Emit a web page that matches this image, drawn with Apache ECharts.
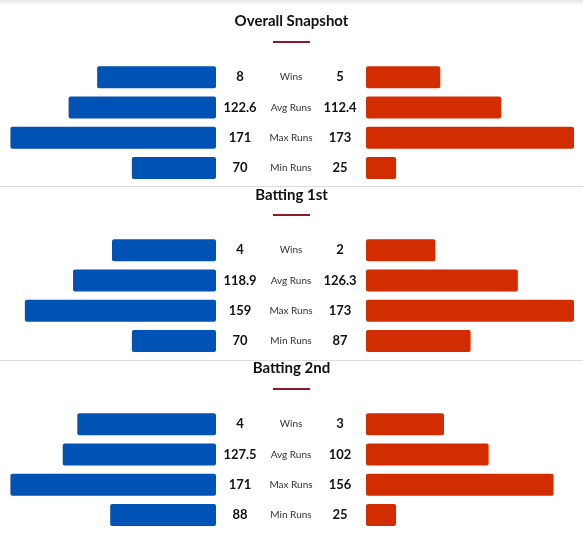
<!DOCTYPE html>
<html>
<head>
<meta charset="utf-8">
<script src="https://cdn.jsdelivr.net/npm/echarts@6/dist/echarts.min.js"></script>
<style>
  html, body { margin: 0; padding: 0; background: #fff; }
  #chart { width: 583px; height: 547px; }
</style>
</head>
<body>
<div id="chart"></div>
<script>
// section titles and row names
const sections = ["Overall Snapshot", "Batting 1st", "Batting 2nd"]
const metrics = ["Wins", "Avg Runs", "Max Runs", "Min Runs"]

// team values per section: wins, avg, max, min
const teamA = [
  [8, 122.6, 171, 70],
  [4, 118.9, 159, 70],
  [4, 127.5, 171, 88]
]
const teamB = [
  [5, 112.4, 173, 25],
  [2, 126.3, 173, 87],
  [3, 102, 156, 25]
]
// matches played in each section (wins bar = win share)
const matchesA = [14, 8, 6]
const matchesB = [14, 6, 8]

const runsMax = 173
const blue = "#0052b4"
const red = "#d22d00"
const font = "Lato"

// layout
const sectionTop = [62, 235, 409]
const titleY = [12, 186, 359]
const accentY = [41, 214, 388]
const rowH = 121

let grid = [], xAxis = [], yAxis = [], series = [], title = []

sections.forEach((name, s) => {
  title.push({
    text: name,
    left: "center",
    top: titleY[s],
    padding: 0,
    textStyle: { fontFamily: font, fontSize: 15, fontWeight: "bold", color: "#111", lineHeight: 18 }
  })

  grid.push({ left: 8, top: sectionTop[s], width: 208, height: rowH })
  grid.push({ left: 366, top: sectionTop[s], width: 208, height: rowH })

  const gl = 2 * s, gr = 2 * s + 1
  xAxis.push(
    { type: "value", gridIndex: gl, min: 0, max: runsMax, inverse: true, show: false },
    { type: "value", gridIndex: gl, min: 0, max: 100, inverse: true, show: false },
    { type: "value", gridIndex: gr, min: 0, max: runsMax, show: false },
    { type: "value", gridIndex: gr, min: 0, max: 100, show: false }
  )

  const baseY = {
    type: "category",
    data: metrics,
    inverse: true,
    axisLine: { show: false },
    axisTick: { show: false },
    splitLine: { show: false }
  }
  yAxis.push(
    Object.assign({}, baseY, {
      gridIndex: gl, position: "right",
      axisLabel: {
        margin: 24, align: "center", fontFamily: font, fontSize: 13, fontWeight: "bold", color: "#111",
        formatter: (v, i) => String(teamA[s][i])
      }
    }),
    Object.assign({}, baseY, {
      gridIndex: gl, position: "right",
      axisLabel: { margin: 75, align: "center", fontFamily: font, fontSize: 10, color: "#333" }
    }),
    Object.assign({}, baseY, {
      gridIndex: gr, position: "left",
      axisLabel: {
        margin: 26, align: "center", fontFamily: font, fontSize: 13, fontWeight: "bold", color: "#111",
        formatter: (v, i) => String(teamB[s][i])
      }
    })
  )

  const runsOnly = arr => arr.map((v, i) => (i === 0 ? "-" : v))
  const winShare = (arr, m) => arr.map((v, i) => (i === 0 ? +(v / m * 100).toFixed(2) : "-"))
  const bar = (xi, yi, data, color) => ({
    type: "bar",
    xAxisIndex: xi,
    yAxisIndex: yi,
    data: data,
    barWidth: 22,
    barGap: "-100%",
    silent: true,
    itemStyle: { color: color, borderRadius: 2 }
  })
  series.push(
    bar(4 * s, 3 * s, runsOnly(teamA[s]), blue),
    bar(4 * s + 1, 3 * s, winShare(teamA[s], matchesA[s]), blue),
    bar(4 * s + 2, 3 * s + 2, runsOnly(teamB[s]), red),
    bar(4 * s + 3, 3 * s + 2, winShare(teamB[s], matchesB[s]), red)
  )
})

// title accents, separators and top shade
let graphic = [
  {
    type: "rect", shape: { x: 0, y: 0, width: 583, height: 6 },
    style: {
      fill: new echarts.graphic.LinearGradient(0, 0, 0, 1, [
        { offset: 0, color: "#e6e6e6" },
        { offset: 1, color: "#ffffff" }
      ])
    }
  },
  { type: "line", shape: { x1: 0, y1: 186.5, x2: 583, y2: 186.5 }, style: { stroke: "#dcdcdc", lineWidth: 1 } },
  { type: "line", shape: { x1: 0, y1: 360.5, x2: 583, y2: 360.5 }, style: { stroke: "#dcdcdc", lineWidth: 1 } }
]
accentY.forEach(y => {
  graphic.push({ type: "rect", shape: { x: 273, y: y, width: 37, height: 2 }, style: { fill: "#8a1a2b" } })
})

const myChart = echarts.init(document.getElementById("chart"))
myChart.setOption({
  animation: false,
  backgroundColor: "#fff",
  title: title,
  grid: grid,
  xAxis: xAxis,
  yAxis: yAxis,
  series: series,
  graphic: graphic
})
</script>
</body>
</html>
